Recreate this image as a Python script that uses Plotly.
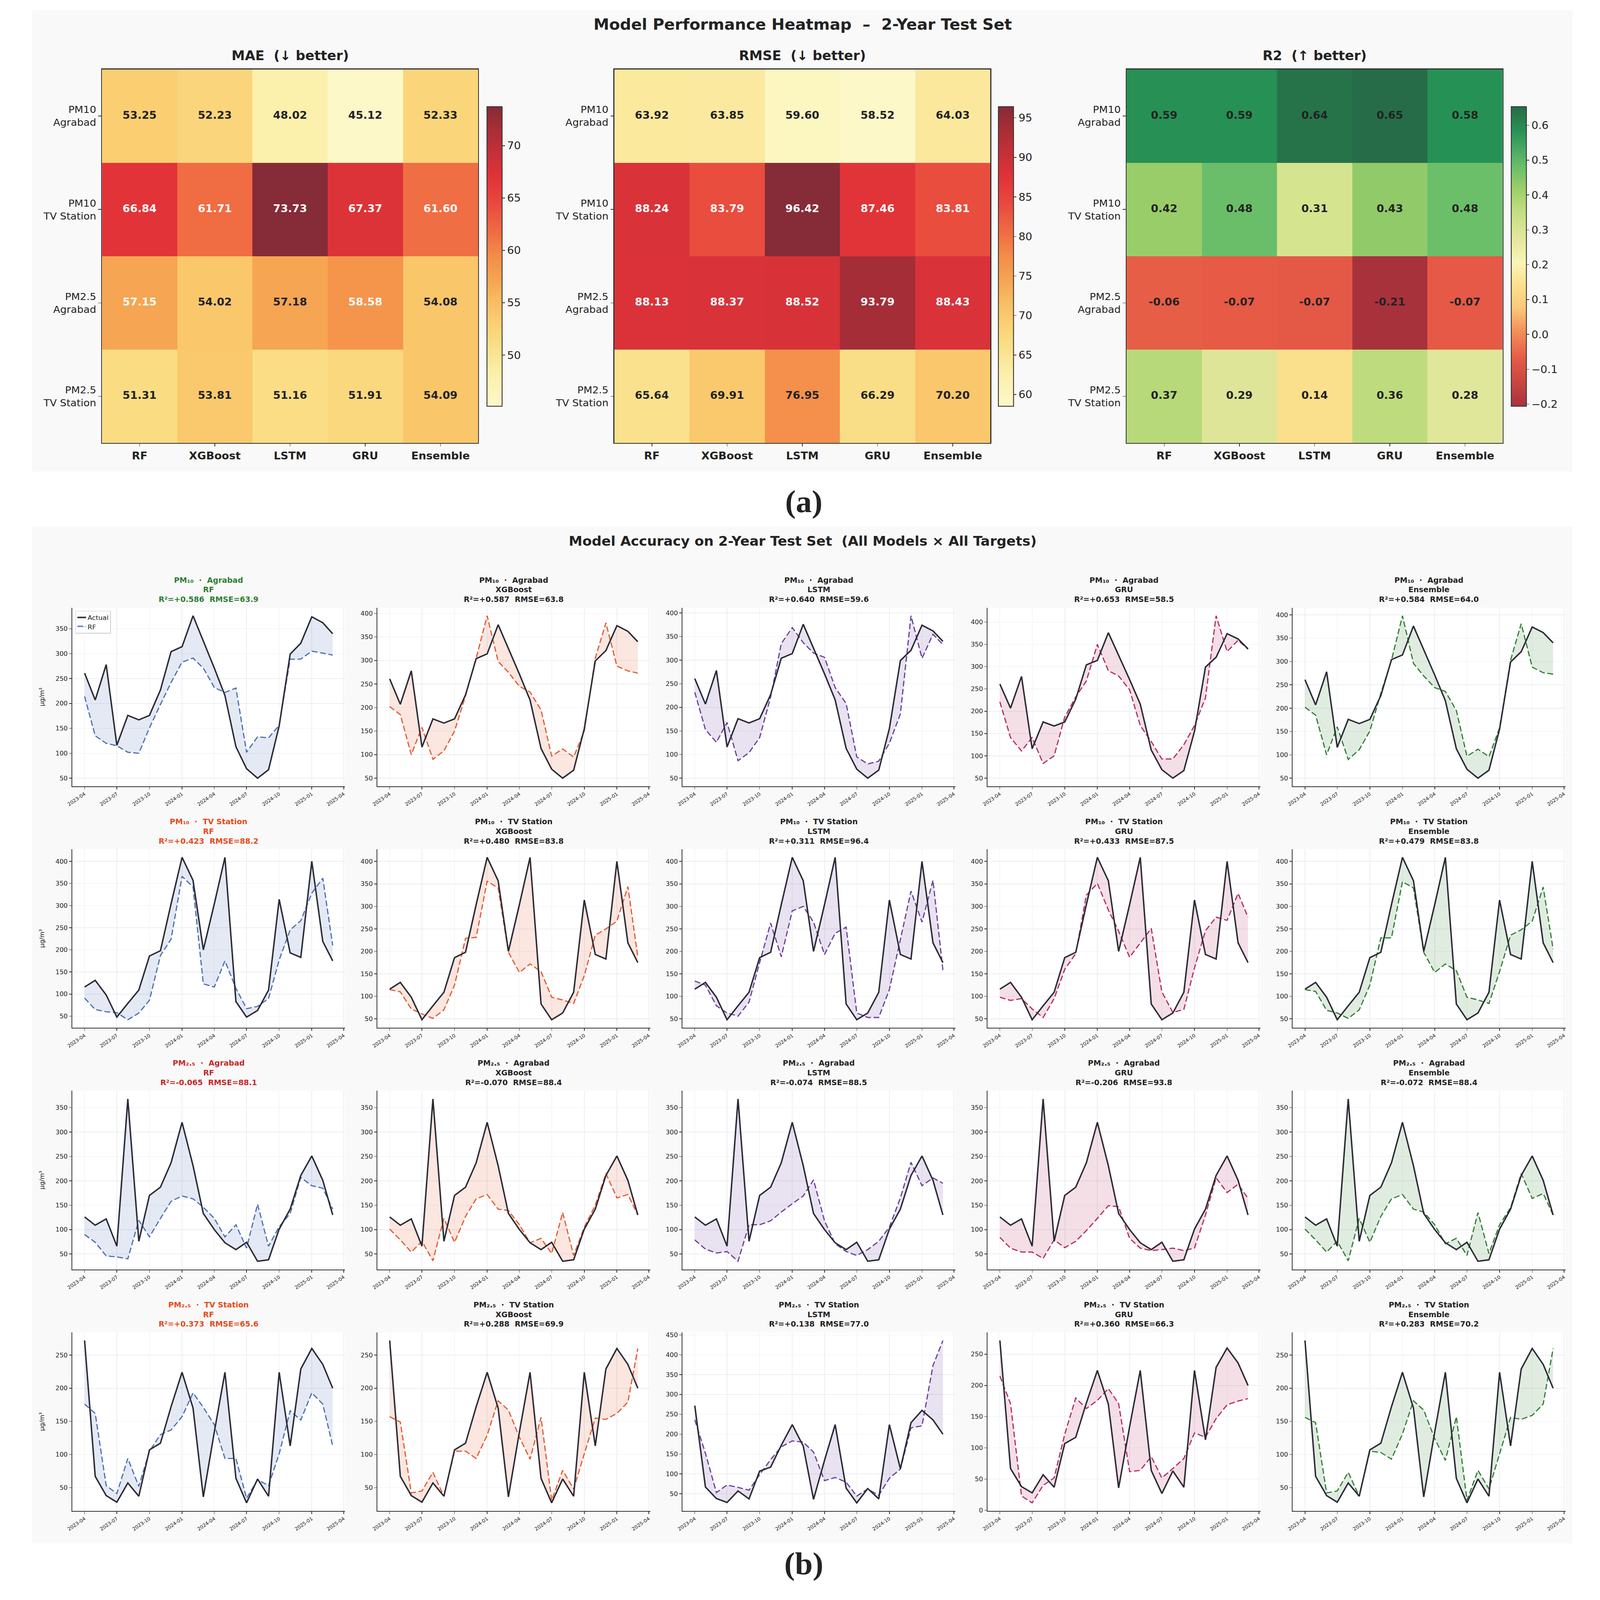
import pandas as pd
import plotly.graph_objects as go

W, H = 5500, 5640

# ---- data -------------------------------------------------------------
models = ["RF", "XGBoost", "LSTM", "GRU", "Ensemble"]
targets = ["PM10<br>Agrabad", "PM10<br>TV Station", "PM2.5<br>Agrabad", "PM2.5<br>TV Station"]
target_titles = ["PM₁₀  ·  Agrabad", "PM₁₀  ·  TV Station", "PM₂.₅  ·  Agrabad", "PM₂.₅  ·  TV Station"]
months = pd.date_range("2023-04-01", periods=24, freq="MS")
tick_months = pd.date_range("2023-04-01", "2025-04-01", freq="3MS")

mae = [
    [53.25, 52.23, 48.02, 45.12, 52.33],
    [66.84, 61.71, 73.73, 67.37, 61.60],
    [57.15, 54.02, 57.18, 58.58, 54.08],
    [51.31, 53.81, 51.16, 51.91, 54.09],
]
rmse = [
    [63.92, 63.847, 59.60, 58.52, 64.03],
    [88.24, 83.79, 96.42, 87.46, 83.81],
    [88.13, 88.37, 88.52, 93.79, 88.43],
    [65.64, 69.91, 76.95, 66.29, 70.20],
]
r2 = [
    [0.5862, 0.5871, 0.6402, 0.6533, 0.5841],
    [0.4232, 0.4801, 0.3113, 0.4331, 0.4792],
    [-0.0648, -0.0702, -0.0741, -0.2058, -0.0723],
    [0.3731, 0.2882, 0.1383, 0.3602, 0.2831],
]

actual_pm10_agrabad = [261, 207, 278, 116, 176, 167, 176, 227, 304, 314, 376, 326,
                       271, 216, 113, 69, 50, 67, 155, 299, 321, 374, 362, 340]
actual_pm10_tv = [116, 131, 98, 48, 79, 109, 186, 198, 304, 409, 357, 200,
                  304, 409, 83, 48, 63, 109, 314, 193, 183, 400, 219, 175]
actual_pm25_agrabad = [126, 109, 122, 66, 368, 76, 170, 187, 237, 320, 231, 133,
                       100, 73, 59, 74, 35, 38, 101, 142, 211, 251, 201, 130]
actual_pm25_tv = [272, 67, 38, 28, 57, 37, 107, 117, 172, 224, 170, 36,
                  134, 224, 64, 27, 63, 37, 224, 113, 229, 260, 236, 200]

rf_pm10_agrabad = [214, 135, 120, 115, 102, 100, 151, 198, 242, 283, 291, 271,
                   232, 222, 231, 102, 133, 131, 156, 289, 289, 305, 301, 297]
xgb_pm10_agrabad = [202, 185, 100, 158, 90, 108, 150, 225, 305, 395, 298, 275,
                    245, 233, 195, 97, 112, 95, 150, 305, 380, 288, 278, 273]
lstm_pm10_agrabad = [232, 153, 126, 168, 87, 104, 136, 222, 335, 369, 337, 315,
                     306, 242, 208, 95, 80, 86, 124, 186, 394, 304, 355, 333]
gru_pm10_agrabad = [221, 141, 111, 141, 83, 100, 187, 232, 268, 350, 291, 279,
                    248, 168, 132, 93, 93, 125, 168, 230, 414, 334, 359, 339]
ens_pm10_agrabad = [202, 185, 100, 160, 90, 111, 151, 232, 303, 398, 296, 269,
                    244, 236, 195, 97, 112, 96, 158, 303, 381, 288, 276, 273]

rf_pm10_tv = [91, 65, 60, 58, 42, 57, 86, 187, 224, 366, 342, 123,
              116, 175, 113, 67, 72, 90, 177, 245, 266, 328, 362, 210]
xgb_pm10_tv = [115, 110, 72, 61, 51, 70, 125, 229, 231, 356, 341, 198,
               153, 172, 155, 98, 92, 84, 146, 236, 250, 267, 344, 188]
lstm_pm10_tv = [134, 125, 79, 63, 56, 87, 175, 263, 188, 290, 300, 265,
                193, 240, 254, 63, 53, 53, 115, 226, 334, 265, 358, 158]
gru_pm10_tv = [98, 91, 95, 72, 53, 95, 160, 195, 325, 351, 292, 245,
               187, 219, 251, 110, 64, 71, 163, 246, 276, 269, 329, 276]
ens_pm10_tv = [115, 111, 69, 63, 51, 70, 125, 230, 230, 355, 341, 198,
               153, 172, 157, 98, 92, 84, 155, 236, 248, 267, 343, 205]

rf_pm25_agrabad = [90, 74, 46, 44, 40, 119, 85, 123, 158, 169, 163, 146,
                   123, 85, 110, 62, 152, 66, 106, 133, 207, 190, 185, 142]
xgb_pm25_agrabad = [101, 79, 54, 76, 36, 123, 74, 127, 163, 172, 142, 139,
                    110, 73, 82, 51, 135, 47, 105, 150, 215, 165, 172, 130]
lstm_pm25_agrabad = [79, 60, 52, 55, 35, 110, 110, 118, 136, 153, 169, 202,
                     118, 71, 55, 47, 59, 76, 105, 165, 238, 190, 206, 195]
gru_pm25_agrabad = [84, 62, 54, 54, 41, 79, 63, 76, 98, 123, 149, 147,
                    82, 62, 57, 59, 62, 57, 62, 130, 206, 176, 193, 164]
ens_pm25_agrabad = [101, 79, 54, 76, 36, 123, 74, 127, 163, 172, 142, 136,
                    110, 71, 82, 47, 135, 51, 110, 145, 215, 164, 174, 130]

rf_pm25_tv = [176, 162, 53, 41, 94, 52, 105, 130, 137, 157, 193, 171,
              145, 94, 94, 34, 62, 53, 101, 166, 152, 193, 176, 113]
xgb_pm25_tv = [157, 149, 42, 45, 73, 37, 105, 105, 94, 129, 181, 167,
               126, 93, 156, 31, 76, 48, 101, 155, 153, 162, 179, 260]
lstm_pm25_tv = [236, 152, 53, 72, 66, 59, 98, 136, 168, 183, 180, 155,
                83, 91, 79, 44, 62, 46, 89, 112, 216, 221, 373, 436]
gru_pm25_tv = [215, 171, 23, 12, 40, 52, 122, 180, 163, 176, 195, 171,
               62, 64, 86, 52, 67, 83, 124, 117, 147, 169, 175, 179]
ens_pm25_tv = [156, 148, 42, 45, 73, 37, 105, 103, 93, 131, 181, 167,
               124, 91, 157, 31, 76, 48, 101, 156, 153, 159, 176, 260]

actuals = [actual_pm10_agrabad, actual_pm10_tv, actual_pm25_agrabad, actual_pm25_tv]
preds = [
    [rf_pm10_agrabad, xgb_pm10_agrabad, lstm_pm10_agrabad, gru_pm10_agrabad, ens_pm10_agrabad],
    [rf_pm10_tv, xgb_pm10_tv, lstm_pm10_tv, gru_pm10_tv, ens_pm10_tv],
    [rf_pm25_agrabad, xgb_pm25_agrabad, lstm_pm25_agrabad, gru_pm25_agrabad, ens_pm25_agrabad],
    [rf_pm25_tv, xgb_pm25_tv, lstm_pm25_tv, gru_pm25_tv, ens_pm25_tv],
]

# ---- styles -----------------------------------------------------------
FONT = "DejaVu Sans"
DARK = "#222222"
SPINE = "#333333"
GRID = "#eceef2"
BG_PANEL = "#f9f9f9"
ACTUAL_COLOR = "#2b2b36"
model_colors = ["#4a6db3", "#e4572e", "#6a3d9a", "#b5295e", "#2e7d32"]

# washed YlOrRd / RdYlGn, as they appear on the light panel
err_scale = [
    [0.00, "#fcf8c8"], [0.10, "#fcf0ae"], [0.21, "#fadd85"], [0.28, "#fbcf72"],
    [0.35, "#f8bc62"], [0.42, "#f6a552"], [0.50, "#f48c49"], [0.58, "#f06c43"],
    [0.68, "#e8483d"], [0.76, "#e23438"], [0.80, "#d53139"], [0.93, "#a52d37"],
    [1.00, "#862b38"],
]
r2_scale = [
    [0.00, "#a8323c"], [0.158, "#e65a46"], [0.25, "#f3905a"], [0.33, "#fbc97a"],
    [0.40, "#fadf8c"], [0.48, "#f9f5b8"], [0.566, "#e1e69b"], [0.60, "#d6e490"],
    [0.66, "#bedc7d"], [0.73, "#9bcd69"], [0.80, "#69be69"], [0.86, "#48a864"],
    [0.92, "#269155"], [1.00, "#266c48"],
]


def rgba(hex_color, a):
    h = hex_color.lstrip("#")
    r, g, b = (int(h[i:i + 2], 16) for i in (0, 2, 4))
    return f"rgba({r},{g},{b},{a})"


def fx(v):
    return v / W


def fy(v):
    return 1 - v / H


fig = go.Figure()
layout = dict(
    width=W, height=H, autosize=False,
    margin=dict(l=0, r=0, t=0, b=0),
    paper_bgcolor="white", plot_bgcolor="rgba(0,0,0,0)",
    font=dict(family=FONT, color=DARK),
    showlegend=True,
)
shapes = [
    dict(type="rect", xref="paper", yref="paper", layer="below",
         x0=fx(91), x1=fx(5408), y0=fy(1663), y1=fy(33),
         fillcolor=BG_PANEL, line=dict(width=0)),
    dict(type="rect", xref="paper", yref="paper", layer="below",
         x0=fx(91), x1=fx(5408), y0=fy(5450), y1=fy(1857),
         fillcolor=BG_PANEL, line=dict(width=0)),
]
annotations = []

# ---- (a) heatmaps -----------------------------------------------------
hm_left = [332, 2100, 3868]
hm_w = 1298
hm_top, hm_bot = 242, 1562
cb_left = [1661, 3426, 5196]
cb_top, cb_bot = 374, 1432
metrics = [
    ("MAE  (↓ better)", mae, err_scale, 5, None, True),
    ("RMSE  (↓ better)", rmse, err_scale, 5, None, True),
    ("R2  (↑ better)", r2, r2_scale, 0.1, ".1f", False),
]

for i, (title, vals, scale, dtick, tfmt, white_high) in enumerate(metrics):
    ax = "" if i == 0 else str(i + 1)
    flat = [v for row in vals for v in row]
    cb = dict(
        x=fx(cb_left[i]), xanchor="left", xpad=0, ypad=0,
        y=fy((cb_top + cb_bot) / 2), yanchor="middle",
        len=(cb_bot - cb_top) / H, lenmode="fraction",
        thickness=52, outlinewidth=3, outlinecolor=SPINE,
        ticks="outside", ticklen=9, tickwidth=2, tickcolor=SPINE,
        tickfont=dict(size=37, color=DARK), dtick=dtick,
    )
    if tfmt:
        cb["tickformat"] = tfmt
    fig.add_trace(go.Heatmap(
        z=vals, x=models, y=targets, colorscale=scale,
        zmin=min(flat), zmax=max(flat), colorbar=cb,
        xaxis="x" + ax, yaxis="y" + ax, hoverinfo="skip",
    ))
    # cell labels: white on cells above their column mean (error metrics)
    tx, ty, tt, tc = [], [], [], []
    for c, m in enumerate(models):
        col_mean = sum(vals[r][c] for r in range(4)) / 4
        for r, t in enumerate(targets):
            v = vals[r][c]
            tx.append(m)
            ty.append(t)
            tt.append(f"<b>{v:.2f}</b>")
            tc.append("white" if (white_high and v > col_mean) else DARK)
    fig.add_trace(go.Scatter(
        x=tx, y=ty, text=tt, mode="text", textfont=dict(size=37, color=tc),
        xaxis="x" + ax, yaxis="y" + ax, showlegend=False, hoverinfo="skip",
    ))
    axis_style = dict(
        showline=True, mirror=True, linecolor=SPINE, linewidth=3,
        ticks="outside", ticklen=10, tickwidth=2, tickcolor=SPINE,
        showgrid=False, zeroline=False,
    )
    layout["xaxis" + ax] = dict(
        domain=[fx(hm_left[i]), fx(hm_left[i] + hm_w)], anchor="y" + ax,
        tickmode="array", tickvals=models, ticktext=[f"<b>{m}</b>" for m in models],
        tickfont=dict(size=37, color=DARK), **axis_style,
    )
    layout["yaxis" + ax] = dict(
        domain=[fy(hm_bot), fy(hm_top)], anchor="x" + ax, autorange="reversed",
        tickfont=dict(size=35, color=DARK), **axis_style,
    )
    annotations.append(dict(
        text=f"<b>{title}</b>", x=fx(hm_left[i] + hm_w / 2), y=fy(193),
        xref="paper", yref="paper", xanchor="center", yanchor="middle",
        showarrow=False, font=dict(size=46, color=DARK),
    ))

annotations.append(dict(
    text="<b>Model Performance Heatmap  –  2-Year Test Set</b>",
    x=0.5, y=fy(83), xref="paper", yref="paper", xanchor="center", yanchor="middle",
    showarrow=False, font=dict(size=54, color=DARK),
))

# ---- (b) actual vs predicted grid -------------------------------------
annotations.append(dict(
    text="<b>Model Accuracy on 2-Year Test Set  (All Models × All Targets)</b>",
    x=0.5, y=fy(1909), xref="paper", yref="paper", xanchor="center", yanchor="middle",
    showarrow=False, font=dict(size=47, color=DARK),
))

x_lo = (months[0] - pd.Timedelta(days=35)).strftime("%Y-%m-%d")
x_hi = (months[-1] + pd.Timedelta(days=35)).strftime("%Y-%m-%d")
tick_vals = [d.strftime("%Y-%m-%d") for d in tick_months]
tick_text = [d.strftime("%Y-%m") for d in tick_months]
x_dates = [d.strftime("%Y-%m-%d") for d in months]

for r in range(4):
    for c in range(5):
        k = 4 + r * 5 + c
        ax = str(k)
        left = 229 + 1053 * c
        right = left + 942
        top = 2144 + 853.5 * r
        bot = top + 631
        act = actuals[r]
        prd = preds[r][c]
        color = model_colors[c]
        first = (r == 0 and c == 0)

        shapes.append(dict(type="rect", xref="paper", yref="paper", layer="below",
                           x0=fx(left), x1=fx(right), y0=fy(bot), y1=fy(top),
                           fillcolor="white", line=dict(width=0)))

        fig.add_trace(go.Scatter(
            x=x_dates, y=act, mode="lines", line=dict(width=0, color=ACTUAL_COLOR),
            xaxis="x" + ax, yaxis="y" + ax, showlegend=False, hoverinfo="skip",
        ))
        fig.add_trace(go.Scatter(
            x=x_dates, y=prd, mode="lines", name=models[c],
            line=dict(color=color, width=4, dash="20px,9px"),
            fill="tonexty", fillcolor=rgba(color, 0.15),
            xaxis="x" + ax, yaxis="y" + ax, showlegend=first, legendrank=2,
        ))
        fig.add_trace(go.Scatter(
            x=x_dates, y=act, mode="lines", name="Actual",
            line=dict(color=ACTUAL_COLOR, width=5),
            xaxis="x" + ax, yaxis="y" + ax, showlegend=first, legendrank=1,
        ))

        lo = min(min(act), min(prd))
        hi = max(max(act), max(prd))
        pad = 0.05 * (hi - lo)
        line_axis = dict(
            showline=True, linecolor=SPINE, linewidth=3, mirror=False,
            ticks="outside", ticklen=8, tickwidth=2, tickcolor=SPINE,
            showgrid=True, gridcolor=GRID, gridwidth=2, zeroline=False,
        )
        layout["xaxis" + ax] = dict(
            domain=[fx(left), fx(right)], anchor="y" + ax, type="date",
            range=[x_lo, x_hi], tickmode="array", tickvals=tick_vals, ticktext=tick_text,
            tickangle=-35, tickfont=dict(size=17, color=DARK), **line_axis,
        )
        layout["yaxis" + ax] = dict(
            domain=[fy(bot), fy(top)], anchor="x" + ax,
            range=[lo - pad, hi + pad], tick0=0, dtick=50,
            tickfont=dict(size=22, color=DARK), **line_axis,
        )

        r2v = r2[r][c]
        if c == 0:
            tcol = "#2e7d32" if r2v > 0.5 else ("#e64a19" if r2v > 0 else "#c62828")
        else:
            tcol = DARK
        annotations.append(dict(
            text=(f"<b>{target_titles[r]}<br>{models[c]}<br>"
                  f"R²={r2v:+.3f}\u00a0\u00a0RMSE={rmse[r][c]:.1f}</b>"),
            x=fx((left + right) / 2), y=fy(top - 12), xref="paper", yref="paper",
            xanchor="center", yanchor="bottom", showarrow=False,
            font=dict(size=26, color=tcol),
        ))
        if c == 0:
            annotations.append(dict(
                text="μg/m³", x=fx(125), y=fy((top + bot) / 2), xref="paper", yref="paper",
                xanchor="center", yanchor="middle", textangle=-90, showarrow=False,
                font=dict(size=22, color=DARK),
            ))

# ---- panel labels -----------------------------------------------------
for label, ypix in (("(a)", 1769), ("(b)", 5522)):
    annotations.append(dict(
        text=f"<b>{label}</b>", x=fx(2754), y=fy(ypix), xref="paper", yref="paper",
        xanchor="center", yanchor="middle", showarrow=False,
        font=dict(family="Liberation Serif", size=110, color=DARK),
    ))

layout["legend"] = dict(
    x=fx(240), y=fy(2155), xanchor="left", yanchor="top",
    bgcolor="white", bordercolor="#cccccc", borderwidth=2,
    font=dict(size=23, color=DARK), traceorder="normal",
)
layout["shapes"] = shapes
layout["annotations"] = annotations
fig.update_layout(**layout)

# stretch the fixed-size figure onto the browser viewport, whatever its css size
fit_script = """
document.documentElement.style.overflow = 'hidden';
document.body.style.overflow = 'hidden';
document.body.style.margin = '0';
var gd = document.getElementById('{plot_id}');
var sx = window.innerWidth / %d;
var sy = window.innerHeight / %d;
if (Math.abs(sx - 1) > 0.002 || Math.abs(sy - 1) > 0.002) {
    gd.style.transformOrigin = '0 0';
    gd.style.transform = 'scale(' + sx + ',' + sy + ')';
}
""" % (W, H)

fig.write_html("out.html", post_script=fit_script, config={"displayModeBar": False})
